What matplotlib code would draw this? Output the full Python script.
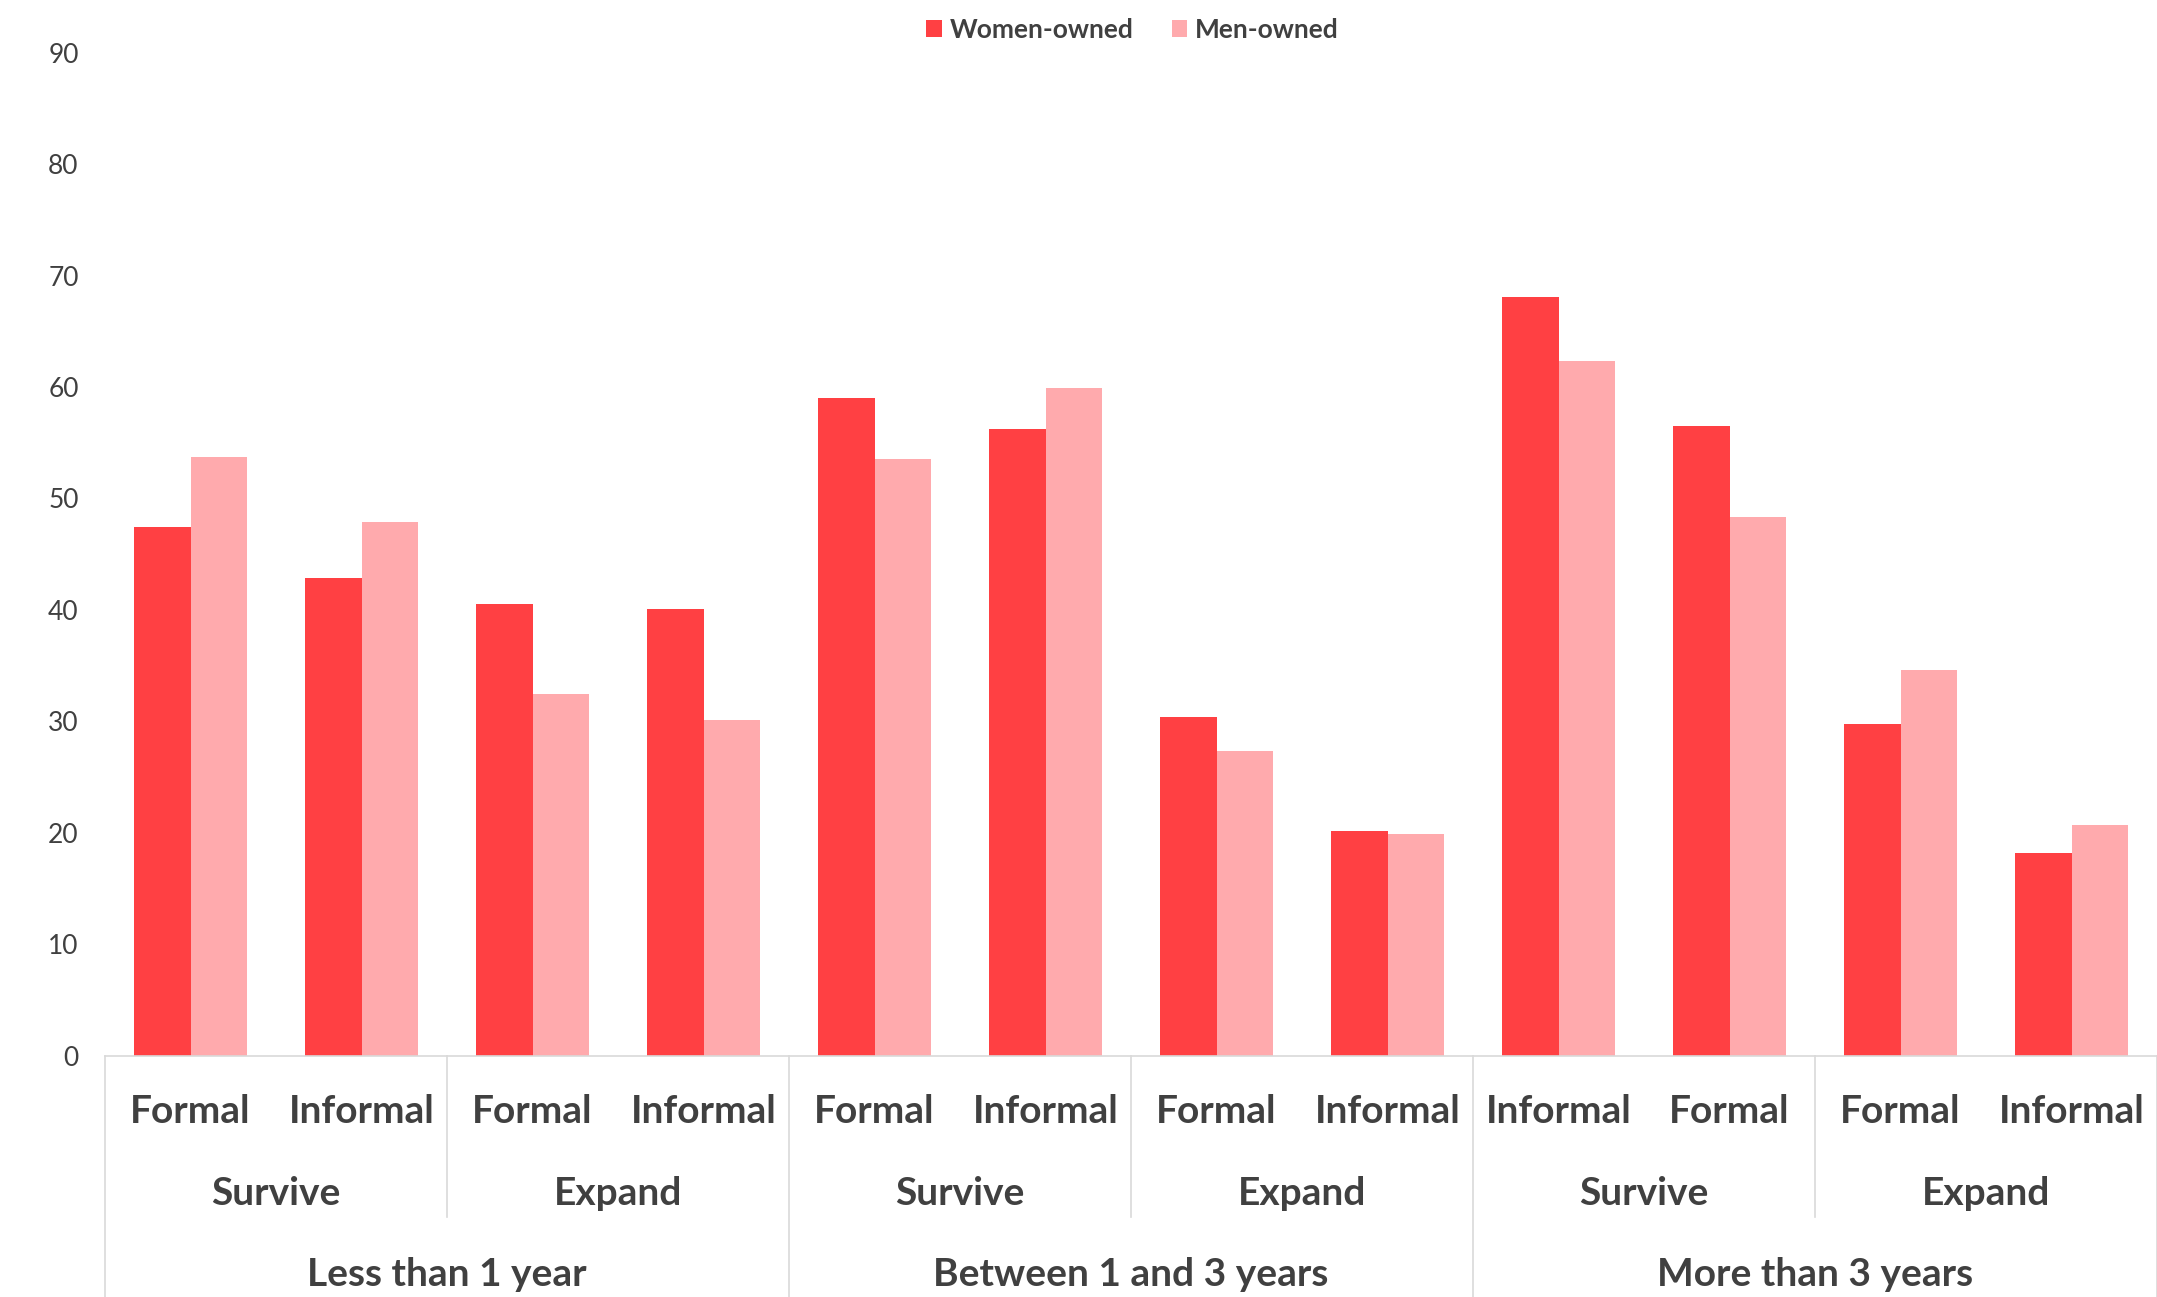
import matplotlib
matplotlib.use("Agg")
import matplotlib.pyplot as plt
from matplotlib.patches import Patch
from matplotlib.lines import Line2D

plt.rcParams["font.family"] = ["Lato", "DejaVu Sans"]

# ── Data ─────────────────────────────────────────────────────────
ages = ["Less than 1 year", "Between 1 and 3 years", "More than 3 years"]
goals = ["Survive", "Expand", "Survive", "Expand", "Survive", "Expand"]
sectors = ["Formal", "Informal", "Formal", "Informal",
           "Formal", "Informal", "Formal", "Informal",
           "Informal", "Formal", "Formal", "Informal"]

women = [47.4, 42.9, 40.5, 40.1,
         59.0, 56.2, 30.4, 20.2,
         68.1, 56.5, 29.8, 18.2]
men = [53.7, 47.9, 32.5, 30.1,
       53.5, 59.9, 27.3, 19.9,
       62.3, 48.3, 34.6, 20.7]

C_WOMEN = "#FF4043"
C_MEN = "#FFAAAD"
C_TEXT = "#404040"
C_LINE = "#D9D9D9"

fig = plt.figure(figsize=(21.57, 12.97), dpi=100)
ax = fig.add_axes([0.0487, 0.186, 0.9513, 0.7734])

x = list(range(len(sectors)))
w = 0.33
ax.bar([i - w / 2 for i in x], women, width=w, color=C_WOMEN, label="Women-owned")
ax.bar([i + w / 2 for i in x], men, width=w, color=C_MEN, label="Men-owned")

ax.set_xlim(-0.5, len(sectors) - 0.5)
ax.set_ylim(0, 90)
ax.set_yticks(range(0, 91, 10))
ax.tick_params(axis="y", length=0, pad=19, labelsize=19, labelcolor=C_TEXT)
ax.set_xticks([])

for side in ["top", "right", "left"]:
    ax.spines[side].set_visible(False)
ax.spines["bottom"].set_color(C_LINE)
ax.spines["bottom"].set_linewidth(1.2)

# ── Multi-level category axis ────────────────────────────────────
tr = ax.get_xaxis_transform()
lab_kw = dict(transform=tr, ha="center", va="baseline", fontsize=28,
              fontweight="bold", color=C_TEXT, clip_on=False)

for i, s in enumerate(sectors):
    ax.text(i, -0.067, s, **lab_kw)

for j, g in enumerate(goals):
    ax.text(2 * j + 0.5, -0.149, g, **lab_kw)

for k, a in enumerate(ages):
    ax.text(4 * k + 1.5, -0.2296, a, **lab_kw)

# separators: short ones between goals, long ones between age groups
for j in range(len(goals) + 1):
    xpos = 2 * j - 0.5
    y_end = -0.245 if j % 2 == 0 else -0.161
    ax.add_line(Line2D([xpos, xpos], [0, y_end], transform=tr,
                       color=C_LINE, linewidth=1.2, clip_on=False))

# ── Legend ───────────────────────────────────────────────────────
handles = [Patch(facecolor=C_WOMEN, label="Women-owned"),
           Patch(facecolor=C_MEN, label="Men-owned")]
leg = fig.legend(handles=handles, loc="center", bbox_to_anchor=(0.525, 0.977),
                 ncol=2, frameon=False, handlelength=0.6, handleheight=0.6,
                 handletextpad=0.3, columnspacing=1.45,
                 prop={"size": 19, "weight": "bold"})
for t in leg.get_texts():
    t.set_color(C_TEXT)

fig.savefig("out.png", dpi=100)
